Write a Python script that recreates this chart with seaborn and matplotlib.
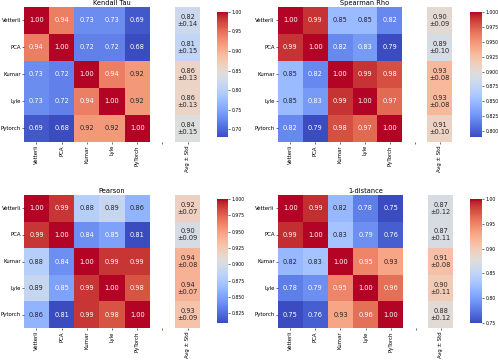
import numpy as np
import matplotlib
matplotlib.use("Agg")
import matplotlib.pyplot as plt
import seaborn as sns

row_labels = ["Vetterli", "PCA", "Kumar", "Lyle", "Pytorch"]
col_labels = ["Vetterli", "PCA", "Kumar", "Lyle", "PyTorch", "", "Avg \u00b1 Std"]

kendall = [
    [1.00, 0.94, 0.73, 0.73, 0.69],
    [0.94, 1.00, 0.72, 0.72, 0.68],
    [0.73, 0.72, 1.00, 0.94, 0.92],
    [0.73, 0.72, 0.94, 1.00, 0.92],
    [0.69, 0.68, 0.92, 0.92, 1.00],
]
kendall_avg = [0.82, 0.81, 0.86, 0.86, 0.84]
kendall_std = [0.14, 0.15, 0.13, 0.13, 0.15]

spearman = [
    [1.00, 0.99, 0.85, 0.85, 0.82],
    [0.99, 1.00, 0.82, 0.83, 0.79],
    [0.85, 0.82, 1.00, 0.99, 0.98],
    [0.85, 0.83, 0.99, 1.00, 0.97],
    [0.82, 0.79, 0.98, 0.97, 1.00],
]
spearman_avg = [0.90, 0.89, 0.93, 0.93, 0.91]
spearman_std = [0.09, 0.10, 0.08, 0.08, 0.10]

pearson = [
    [1.00, 0.99, 0.88, 0.89, 0.86],
    [0.99, 1.00, 0.84, 0.85, 0.81],
    [0.88, 0.84, 1.00, 0.99, 0.99],
    [0.89, 0.85, 0.99, 1.00, 0.98],
    [0.86, 0.81, 0.99, 0.98, 1.00],
]
pearson_avg = [0.92, 0.90, 0.94, 0.94, 0.93]
pearson_std = [0.07, 0.09, 0.08, 0.07, 0.09]

one_minus_dist = [
    [1.00, 0.99, 0.82, 0.78, 0.75],
    [0.99, 1.00, 0.83, 0.79, 0.76],
    [0.82, 0.83, 1.00, 0.95, 0.93],
    [0.78, 0.79, 0.95, 1.00, 0.96],
    [0.75, 0.76, 0.93, 0.96, 1.00],
]
dist_avg = [0.87, 0.87, 0.91, 0.90, 0.88]
dist_std = [0.12, 0.11, 0.08, 0.11, 0.12]


def build_table(mat, avg, std):
    mat = np.array(mat, dtype=float)
    n = mat.shape[0]
    data = np.full((n, 7), np.nan)
    data[:, :5] = mat
    data[:, 6] = avg
    annot = np.full((n, 7), "", dtype=object)
    for i in range(n):
        for j in range(5):
            annot[i, j] = f"{mat[i, j]:.2f}"
        annot[i, 6] = f"{avg[i]:.2f}\n\u00b1{std[i]:.2f}"
    return data, annot


def plot_panel(fig, rect, cbar_rect, title, mat, avg, std):
    data, annot = build_table(mat, avg, std)
    ax = fig.add_axes(rect)
    cax = fig.add_axes(cbar_rect)
    sns.heatmap(
        data,
        ax=ax,
        cbar_ax=cax,
        cmap="coolwarm",
        annot=annot,
        fmt="",
        annot_kws={"size": 4.8},
        xticklabels=col_labels,
        yticklabels=row_labels,
    )
    ax.set_title(title, fontsize=4.8, pad=1.5)
    ax.tick_params(axis="both", labelsize=3.9, length=1.5, width=0.4, pad=0.8)
    ax.set_xticklabels(col_labels, rotation=90)
    ax.set_yticklabels(row_labels, rotation=0)
    cax.tick_params(labelsize=3.3, length=1.5, width=0.4, pad=1)


fig = plt.figure(figsize=(4.98, 3.60), dpi=100)

plot_panel(fig, [0.048, 0.606, 0.354, 0.375], [0.436, 0.619, 0.022, 0.348],
           "Kendall Tau", kendall, kendall_avg, kendall_std)
plot_panel(fig, [0.558, 0.606, 0.350, 0.375], [0.944, 0.619, 0.024, 0.348],
           "Spearman Rho", spearman, spearman_avg, spearman_std)
plot_panel(fig, [0.048, 0.089, 0.354, 0.369], [0.436, 0.103, 0.022, 0.344],
           "Pearson", pearson, pearson_avg, pearson_std)
plot_panel(fig, [0.558, 0.089, 0.352, 0.369], [0.944, 0.103, 0.024, 0.344],
           "1-distance", one_minus_dist, dist_avg, dist_std)

fig.savefig("out.png", dpi=100)
